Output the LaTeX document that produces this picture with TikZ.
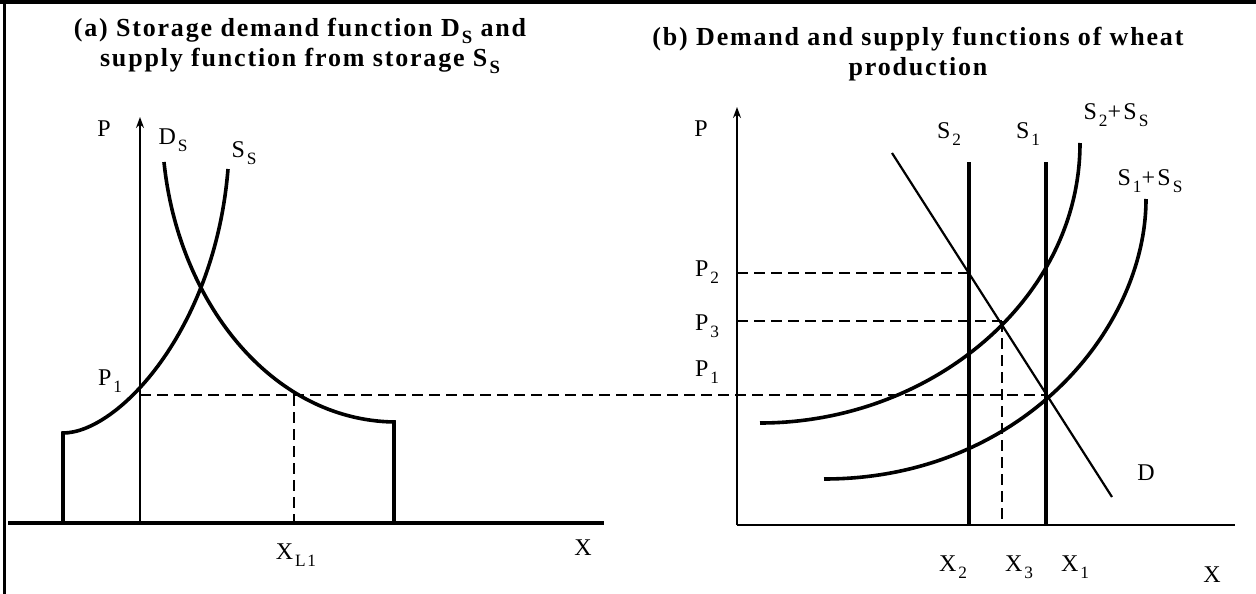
\documentclass[tikz,border=0pt]{standalone}
\usepackage{fontspec}
\setmainfont{Liberation Serif}
\newfontfamily\ttlfont[LetterSpace=7]{Liberation Serif}
\newfontfamily\lblfont[LetterSpace=10]{Liberation Serif}
\usetikzlibrary{arrows.meta}
\newcommand{\subtxt}[1]{\kern0.08em\raisebox{-0.28em}{\scalebox{0.72}{#1}}}

\begin{document}
\begin{tikzpicture}[x=1pt,y=-1pt,
  lbl/.style={inner sep=0pt,font=\lblfont\fontsize{24}{27}\selectfont},
  ttl/.style={inner sep=0pt,align=center,font=\ttlfont\bfseries\fontsize{26}{30}\selectfont},
  crv/.style={line width=3.6pt},
  ax/.style={line width=1.6pt},
  dsh/.style={line width=1.4pt,dash pattern=on 11pt off 6pt},
  arr/.style={-{Stealth[length=11pt,width=8pt]}}
]
\useasboundingbox (0,0) rectangle (1256,594);

% frame
\draw[line width=3.5pt] (0,2) -- (1256,2);
\draw[line width=3pt] (4,0) -- (4,594);

% (a) storage
\node[ttl] (ttla) at (300,46) {(a) Storage demand function D\subtxt{S} and\\supply function from storage S\subtxt{S}};
\coordinate (oa) at (140,523);
\coordinate (pa) at (140,117);
\coordinate (xa0) at (8,523);
\coordinate (xa1) at (604,523);
\coordinate (e1) at (140,395);
\coordinate (e2) at (294,395);
\coordinate (e2x) at (294,523);
\draw[ax,arr] (oa) -- (pa);
\draw[line width=3.5pt] (xa0) -- (xa1);
\draw[crv] (63,523) -- (63,433) .. controls (118,433) and (215,330) .. (228,169);
\draw[crv] (164,162) .. controls (178,300) and (270,420) .. (394,422) -- (394,523);
\draw[dsh] (e2) -- (e2x);

\node[lbl] (pA) at (104,129) {P};
\node[lbl] (dsA) at (173,140) {D\subtxt{S}};
\node[lbl] (ssA) at (244,153) {S\subtxt{S}};
\node[lbl] (p1A) at (110,381) {P\subtxt{1}};
\node[lbl] (xl1) at (296,555) {X\subtxt{L1}};
\node[lbl] (xA) at (583,548) {X};

% (b) wheat
\node[ttl] (ttlb) at (918,54) {(b) Demand and supply functions of wheat\\production};
\coordinate (ob) at (737,525);
\coordinate (pb) at (737,107);
\coordinate (xb) at (1235,525);
\coordinate (q1) at (1048,395);
\coordinate (q2) at (969,273);
\coordinate (q3) at (1002,321);
\coordinate (p2b) at (737,273);
\coordinate (p3b) at (737,321);
\coordinate (x3b) at (1002,525);
\draw[ax,arr] (ob) -- (pb);
\draw[line width=2pt] (ob) -- (xb);
\draw[crv] (969,162) -- (969,525);
\draw[crv] (1046,162) -- (1046,525);
\draw[line width=2.2pt] (892,153) -- (1112,497);
\draw[crv] (760,423) .. controls (930,423) and (1080,300) .. (1080,143);
\draw[crv] (824,479) .. controls (1020,479) and (1146,330) .. (1146,199);
\draw[dsh] (p2b) -- (q2);
\draw[dsh] (p3b) -- (q3);
\draw[dsh] (q3) -- (x3b);
\draw[dsh] (e1) -- (q1);

\node[lbl] (pB) at (701,129) {P};
\node[lbl] (s2B) at (949,134) {S\subtxt{2}};
\node[lbl] (s1B) at (1028,134) {S\subtxt{1}};
\node[lbl] (s2sB) at (1116,115) {S\subtxt{2}+S\subtxt{S}};
\node[lbl] (s1sB) at (1150,181) {S\subtxt{1}+S\subtxt{S}};
\node[lbl] (p2B) at (707,272) {P\subtxt{2}};
\node[lbl] (p3B) at (707,326) {P\subtxt{3}};
\node[lbl] (p1B) at (707,372) {P\subtxt{1}};
\node[lbl] (dB) at (1146,473) {D};
\node[lbl] (x2B) at (953,567) {X\subtxt{2}};
\node[lbl] (x3B) at (1019,567) {X\subtxt{3}};
\node[lbl] (x1B) at (1075,567) {X\subtxt{1}};
\node[lbl] (xB) at (1212,575) {X};
\end{tikzpicture}
\end{document}
